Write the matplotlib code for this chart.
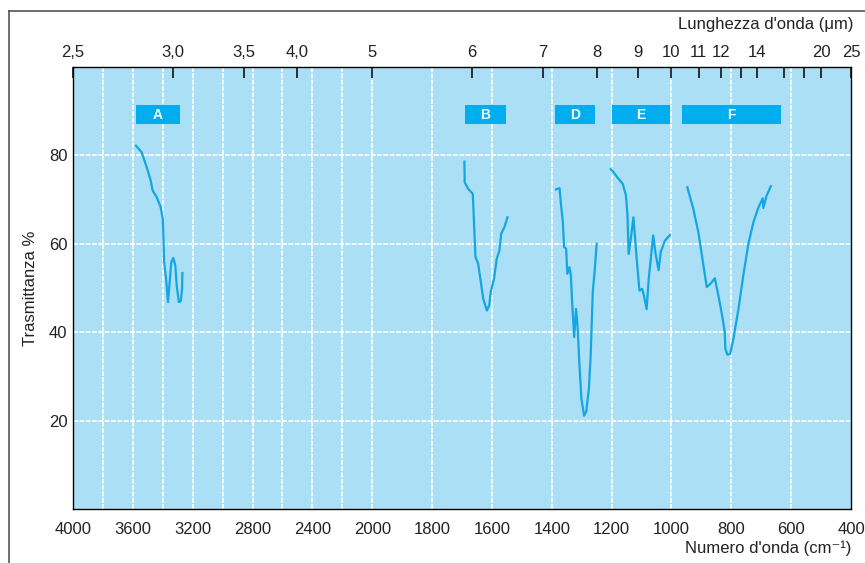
import matplotlib
matplotlib.use("Agg")
import matplotlib.pyplot as plt
from matplotlib.lines import Line2D
import numpy as np

plt.rcParams['font.family'] = ['Liberation Sans Narrow', 'Liberation Sans', 'DejaVu Sans']

# spettro IR: numero d'onda (cm-1) e trasmittanza (%)
wn_A = [3579, 3541, 3519, 3497, 3481, 3467, 3441, 3414, 3400, 3396, 3391, 3378,
        3365, 3352, 3343, 3330, 3316, 3307, 3293, 3280, 3271, 3269]
tr_A = [82.2, 80.7, 78.5, 76.2, 74.3, 72.0, 70.6, 68.3, 65.6, 61.9, 55.9, 52.1,
        46.8, 52.1, 55.9, 56.8, 55.1, 50.6, 46.8, 47.0, 49.8, 53.4]

wn_B = [1692, 1691, 1679, 1664, 1660, 1655, 1646, 1637, 1629, 1617, 1609, 1604,
        1593, 1584, 1575, 1569, 1558, 1548]
tr_B = [78.6, 73.9, 72.4, 71.3, 64.9, 57.0, 55.5, 51.3, 47.6, 44.9, 46.1, 49.1,
        52.1, 56.6, 58.5, 62.3, 63.8, 66.0]

wn_D = [1386, 1374, 1370, 1363, 1359, 1352, 1348, 1341, 1336, 1332, 1325, 1319,
        1314, 1308, 1301, 1292, 1285, 1276, 1270, 1263, 1256, 1250]
tr_D = [72.3, 72.6, 69.4, 64.9, 59.3, 58.9, 53.2, 54.7, 52.8, 46.8, 38.9, 45.3,
        41.5, 33.3, 25.0, 21.1, 22.0, 27.2, 34.8, 49.1, 54.4, 60.0]

wn_E = [1203, 1189, 1177, 1163, 1152, 1147, 1143, 1136, 1127, 1118, 1107, 1098,
        1092, 1083, 1076, 1061, 1054, 1043, 1036, 1022, 1005]
tr_E = [76.9, 75.8, 74.7, 73.6, 70.9, 66.4, 57.7, 61.1, 66.0, 58.1, 49.4, 49.8,
        48.3, 45.2, 52.1, 61.9, 58.1, 54.0, 58.1, 60.7, 62.0]

wn_F = [947, 927, 910, 895, 882, 869, 855, 840, 829, 822, 820, 813, 804, 793,
        776, 760, 743, 726, 709, 695, 693, 682, 668]
tr_F = [72.8, 67.9, 62.6, 55.9, 50.2, 51.0, 52.2, 47.2, 43.1, 40.0, 36.3, 34.9,
        35.1, 38.5, 45.3, 52.8, 60.0, 64.9, 68.3, 70.3, 68.1, 70.9, 73.0]

# bande: nome, da, a (cm-1)
bands = ['A', 'B', 'D', 'E', 'F']
band_start = [3577, 1691, 1390, 1200, 965]
band_end = [3287, 1554, 1256, 1005, 634]

bottom_ticks = [4000, 3600, 3200, 2800, 2400, 2000, 1800, 1600, 1400, 1200, 1000, 800, 600, 400]
y_ticks = [20, 40, 60, 80]
um_ticks = [2.5, 3.0, 3.5, 4.0, 5, 6, 7, 8, 9, 10, 11, 12, 13, 14, 16, 18, 20, 25]
um_labels = ['2,5', '3,0', '3,5', '4,0', '5', '6', '7', '8', '9', '10', '11', '12',
             '', '14', '', '', '20', '25']

bg = '#abdff6'
line_col = '#14a6e2'
box_col = '#00aeef'


# scala: 4000-2000 compressa, 2000-400 doppia (crescente in w)
def fwd(w):
    w = np.asarray(w, dtype=float)
    return np.where(w >= 2000, w - 4000, 2 * w - 6000)


def inv(u):
    u = np.asarray(u, dtype=float)
    return np.where(u >= -2000, u + 4000, (u + 6000) / 2)


fig = plt.figure(figsize=(8.65, 5.63), dpi=100)
ax = fig.add_axes([73 / 865, 54 / 563, 778 / 865, 442 / 563])
ax.set_xscale('function', functions=(fwd, inv))
ax.set_xlim(4000, 400)
ax.set_ylim(0, 100)
ax.set_facecolor(bg)

grid_kw = dict(color='white', lw=1.2, ls=(0, (3, 0.8)), zorder=1)
for g in range(3800, 401, -200):
    ax.axvline(g, **grid_kw)
for g in y_ticks:
    ax.axhline(g, **grid_kw)

for wn, tr in [(wn_A, tr_A), (wn_B, tr_B), (wn_D, tr_D), (wn_E, tr_E), (wn_F, tr_F)]:
    ax.plot(wn, tr, color=line_col, lw=1.6, zorder=3, solid_joinstyle='round')

for name, a, b in zip(bands, band_start, band_end):
    ax.fill([a, b, b, a], [87, 87, 91.3, 91.3], color=box_col, lw=0, zorder=3)
    mid = float(inv((fwd(a) + fwd(b)) / 2))
    ax.text(mid, 89.1, name, color='white', fontsize=10, fontweight='bold',
            ha='center', va='center', zorder=4)

ax.set_xticks(bottom_ticks)
ax.set_xticklabels([str(t) for t in bottom_ticks])
ax.set_yticks(y_ticks)
ax.tick_params(axis='both', length=0, labelsize=12, colors='#222222')
ax.tick_params(axis='x', pad=9)
ax.tick_params(axis='y', pad=4)
ax.xaxis.set_minor_locator(plt.NullLocator())
ax.set_ylabel('Trasmittanza %', fontsize=12, color='#222222', labelpad=8)
for s in ax.spines.values():
    s.set_color('#444444')
    s.set_linewidth(1.0)

# asse superiore: lunghezza d'onda
top = ax.twiny()
top.set_xscale('function', functions=(fwd, inv))
top.set_xlim(4000, 400)
top.set_xticks([10000 / l for l in um_ticks])
top.set_xticklabels(um_labels)
top.xaxis.set_minor_locator(plt.NullLocator())
top.tick_params(axis='x', direction='in', length=8, width=1.2, color='#111111',
                labelsize=12, labelcolor='#222222', pad=5)

fig.text(853 / 865, 1 - 24 / 563, "Lunghezza d'onda (\u03bcm)", ha='right', va='center',
         fontsize=12, color='#222222')
fig.text(851 / 865, 1 - 548 / 563, "Numero d'onda (cm\u207b\u00b9)", ha='right', va='center',
         fontsize=12, color='#222222')

# cornice della pagina
fig.add_artist(Line2D([9 / 865, 9 / 865], [0, 1 - 11 / 563], color='#555555', lw=1.2))
fig.add_artist(Line2D([9 / 865, 1], [1 - 11 / 563, 1 - 11 / 563], color='#555555', lw=1.2))

fig.savefig('out.png', dpi=100)
